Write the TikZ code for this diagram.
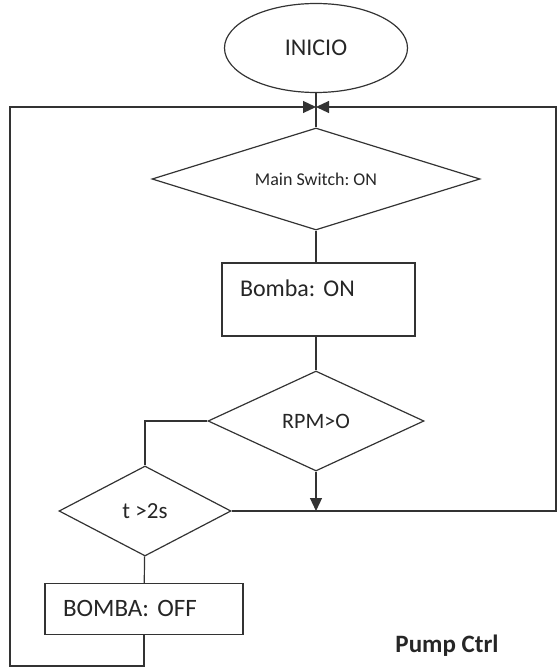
\documentclass[tikz,border=0pt]{standalone}
\usepackage{fontspec}
\setmainfont{Carlito}
\usetikzlibrary{shapes.geometric,arrows.meta}
\frenchspacing

\newcommand{\fsz}[1]{\fontsize{#1}{#1}\selectfont}

\begin{document}
\begin{tikzpicture}[x=1pt,y=-1pt,
  line/.style={draw=black!80, line width=1.2pt},
  decision/.style={line, diamond, aspect=3, inner sep=0pt},
  process/.style={line, rectangle, inner ysep=0pt, inner xsep=18pt, align=left},
  tip/.style={-{Triangle[length=13pt,width=12pt]}},
  every node/.style={text=black!85}]
  \useasboundingbox (0,0) rectangle (558,668);

  \node[line, ellipse, inner sep=0pt, minimum width=183pt, minimum height=89pt, font=\fsz{24}] (inicio) at (316,48) {INICIO};
  \coordinate (join) at (316,107);
  \coordinate (ne) at (556,107);
  \coordinate (nw) at (10,107);
  \coordinate (sw) at (10,666);

  \node[decision, minimum width=328pt, minimum height=102pt, font=\fsz{18}] (mainsw) at (316,179) {Main Switch: ON};
  \node[process, text width=157pt, text height=33.5pt, text depth=39.5pt, font=\fsz{24}] (bombaon) at (318.5,299.5) {Bomba: ON};
  \node[decision, minimum width=216pt, minimum height=100pt, font=\fsz{22}] (rpm) at (316,421) {RPM>O};
  \node[decision, minimum width=172pt, minimum height=90pt, font=\fsz{23}] (tcheck) at (145,511) {t >2s};
  \node[process, text width=162pt, text height=33pt, text depth=18pt, font=\fsz{25}] (bombaoff) at (144,583) [anchor=north] {BOMBA: OFF};

  \node[anchor=base, font=\fsz{25}\bfseries] (title) at (447,652) {Pump Ctrl};

  \draw[line] (inicio) -- (mainsw);
  \draw[line] (mainsw) -- (bombaon.north -| mainsw);
  \draw[line] (bombaon.south -| rpm) -- (rpm);
  \draw[line] (rpm.west) -| (tcheck.north);
  \draw[line, tip] (rpm.south) -- (rpm.south |- tcheck.east);
  \draw[line] (tcheck) -- (bombaoff);
  \draw[line, tip] (tcheck.east) -| (ne) -- (join);
  \draw[line, tip] (bombaoff.south) |- (sw) -- (nw) -- (join);
\end{tikzpicture}
\end{document}
